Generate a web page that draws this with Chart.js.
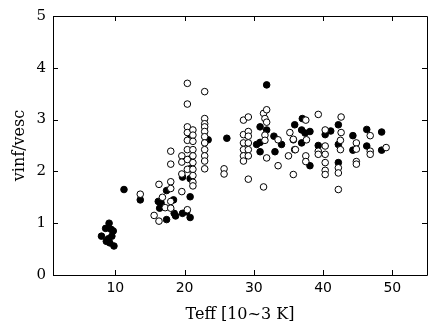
<!DOCTYPE html>
<html>
<head>
<meta charset="utf-8">
<script src="https://cdn.jsdelivr.net/npm/chart.js@4.4.0/dist/chart.umd.min.js"></script>
<style>
  html, body { margin: 0; padding: 0; background: #fff; }
  #wrap { width: 437px; height: 335px; }
</style>
</head>
<body>
<div id="wrap"><canvas id="plot"></canvas></div>
<script>
// filled symbols
const filledX = [8.0, 8.6, 9.1, 8.7, 9.2, 9.5, 9.7, 9.8, 9.4, 9.0,
  11.25, 13.6, 16.2, 16.4, 16.6, 17.4, 17.4, 18.4, 18.5, 18.7, 19.7, 19.7, 20.3,
  20.8, 20.8, 20.8, 20.8, 20.8, 20.8, 23.4, 26.1,
  30.4, 30.9, 30.9, 30.9, 31.85, 31.85, 32.9, 33.05, 34.0,
  35.9, 35.9, 35.7, 36.9, 37.0, 36.9, 37.4, 38.1, 38.1,
  39.3, 40.3, 41.1, 42.2, 42.2, 42.2, 44.3, 44.3, 46.3, 46.3, 48.45, 48.45];
const filledY = [0.75, 0.9, 1.0, 0.65, 0.62, 0.75, 0.85, 0.56, 0.88, 0.7,
  1.65, 1.45, 1.42, 1.29, 1.39, 1.63, 1.07, 1.45, 1.19, 1.14, 1.19, 1.89, 1.22,
  1.11, 1.51, 1.86, 2.05, 2.24, 2.71, 2.61, 2.64,
  2.52, 2.56, 2.38, 2.86, 3.67, 2.80, 2.68, 2.38, 2.52,
  2.90, 2.42, 2.61, 2.55, 3.02, 2.80, 2.74, 2.77, 2.11,
  2.50, 2.71, 2.78, 2.90, 2.52, 2.17, 2.69, 2.41, 2.81, 2.49, 2.76, 2.41];

// open symbols
const openX = [13.6, 16.3, 15.6, 16.3, 16.8, 17.2,
  18.0, 18.0, 18.0, 18.0, 18.0, 18.0,
  19.6, 19.6, 19.6, 19.6, 20.4, 20.4, 20.4, 20.4, 20.4, 20.4, 20.4, 20.4, 20.4,
  21.2, 21.2, 21.2, 21.2, 21.2, 21.2, 21.2, 21.2, 21.2, 21.2,
  22.9, 22.9, 22.9, 22.9, 22.9, 22.9, 22.9, 22.9, 22.9, 22.9, 22.9,
  25.7, 25.7,
  28.5, 28.5, 28.5, 28.5, 28.5, 28.5, 29.2, 29.2, 29.2, 29.2, 29.2, 29.2, 29.2,
  31.4, 31.85, 31.6, 31.85, 31.6, 31.6, 31.85, 31.4,
  33.5, 33.5, 35.0, 35.2, 35.7, 35.7, 36.0,
  37.5, 37.5, 37.5, 37.6, 39.3, 39.3, 39.3,
  40.3, 40.3, 40.3, 40.3, 40.3, 40.3,
  42.2, 42.2, 42.2, 42.5, 42.5, 42.6, 42.6,
  44.8, 44.8, 44.8, 44.8, 46.8, 46.8, 46.8, 49.1];
const openY = [1.56, 1.75, 1.15, 1.04, 1.5, 1.3,
  2.39, 2.14, 1.80, 1.67, 1.42, 1.29,
  2.30, 1.95, 1.61, 2.18, 3.70, 3.30, 2.86, 2.75, 2.60, 2.42, 2.23, 2.04, 1.26,
  2.80, 2.70, 2.58, 2.42, 2.30, 2.17, 2.04, 1.92, 1.79, 1.72,
  3.54, 3.02, 2.92, 2.86, 2.77, 2.67, 2.55, 2.42, 2.30, 2.20, 2.05,
  2.05, 1.95,
  2.99, 2.71, 2.55, 2.42, 2.30, 2.20, 3.05, 2.77, 2.68, 2.55, 2.42, 2.30, 1.85,
  3.12, 3.19, 3.02, 2.95, 2.70, 2.60, 2.26, 1.70,
  2.11, 2.61, 2.30, 2.75, 1.94, 2.62, 2.42,
  2.99, 2.30, 2.19, 2.61, 3.10, 2.39, 2.33,
  2.80, 2.49, 2.33, 2.17, 2.02, 1.94,
  2.07, 1.97, 1.65, 2.42, 2.60, 3.05, 2.75,
  2.55, 2.43, 2.19, 2.14, 2.69, 2.39, 2.33, 2.46];

const xTicks = [10, 20, 30, 40, 50];
const yTicks = [0, 1, 2, 3, 4, 5];

function pts(xs, ys) {
  return xs.map((x, i) => ({ x: x, y: ys[i] }));
}

// frame + inward ticks on all four sides
const frame = {
  id: 'frame',
  afterDatasetsDraw(chart) {
    const ctx = chart.ctx, a = chart.chartArea;
    const sx = chart.scales.x, sy = chart.scales.y;
    ctx.save();
    ctx.strokeStyle = '#000';
    ctx.lineWidth = 1;
    ctx.beginPath();
    ctx.rect(a.left + 0.5, a.top + 0.5, a.right - a.left, a.bottom - a.top);
    xTicks.forEach(v => {
      const p = Math.round(sx.getPixelForValue(v)) + 0.5;
      ctx.moveTo(p, a.bottom); ctx.lineTo(p, a.bottom - 5);
      ctx.moveTo(p, a.top); ctx.lineTo(p, a.top + 5);
    });
    yTicks.forEach(v => {
      const p = Math.round(sy.getPixelForValue(v)) + 0.5;
      ctx.moveTo(a.left, p); ctx.lineTo(a.left + 5, p);
      ctx.moveTo(a.right, p); ctx.lineTo(a.right - 5, p);
    });
    ctx.stroke();
    ctx.restore();
  }
};

new Chart(document.getElementById('plot'), {
  type: 'scatter',
  data: {
    datasets: [{
      data: pts(openX, openY),
      backgroundColor: '#fff',
      borderColor: '#000',
      borderWidth: 1,
      pointRadius: 3.3
    }, {
      data: pts(filledX, filledY),
      backgroundColor: '#000',
      borderColor: '#000',
      borderWidth: 1,
      pointRadius: 3.3
    }]
  },
  options: {
    responsive: true,
    maintainAspectRatio: false,
    animation: false,
    layout: { padding: { top: 10, right: 10, left: 6, bottom: 7 } },
    plugins: { legend: { display: false }, tooltip: { enabled: false } },
    scales: {
      x: {
        type: 'linear', min: 1, max: 55,
        afterBuildTicks: s => { s.ticks = xTicks.map(v => ({ value: v })); },
        afterFit: s => { s.height = 53; },
        grid: { display: false, drawTicks: false },
        border: { display: false },
        ticks: { color: '#000', padding: 5, font: { family: 'DejaVu Sans', size: 14 } },
        title: { display: true, text: 'Teff [10~3 K]', color: '#000', padding: { top: 2 },
          font: { family: 'DejaVu Serif', size: 16 } }
      },
      y: {
        type: 'linear', min: 0, max: 5,
        afterBuildTicks: s => { s.ticks = yTicks.map(v => ({ value: v })); },
        afterFit: s => { s.width = 47; },
        grid: { display: false, drawTicks: false },
        border: { display: false },
        ticks: { color: '#000', padding: 7, font: { family: 'DejaVu Serif', size: 15 } },
        title: { display: true, text: 'vinf/vesc', color: '#000', padding: { bottom: 0 },
          font: { family: 'DejaVu Serif', size: 16 } }
      }
    }
  },
  plugins: [frame]
});
</script>
</body>
</html>
